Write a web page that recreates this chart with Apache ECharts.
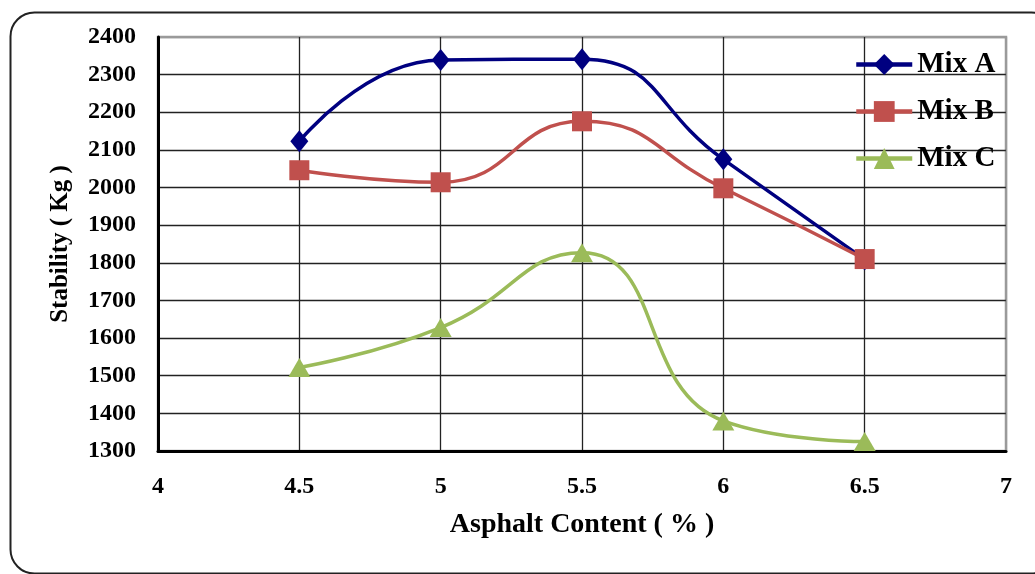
<!DOCTYPE html>
<html><head><meta charset="utf-8">
<script src="https://cdn.jsdelivr.net/npm/echarts@6/dist/echarts.min.js"></script>
<style>html,body{margin:0;padding:0;background:#fff}#c{width:1035px;height:574px}</style>
</head><body><div id="c"></div>
<script>
const asphalt = [4.5, 5, 5.5, 6, 6.5];
const mixA = [2123, 2339, 2341, 2075, 1809];
const mixB = [2046, 2014, 2176, 1998, 1810];
const mixC = [1522, 1628, 1827, 1380, 1325];
const seriesNames = ['Mix A', 'Mix B', 'Mix C'];
const xTitle = 'Asphalt Content ( % )';
const yTitle = 'Stability ( Kg )';

const font = '"Liberation Serif", "Times New Roman", serif';
const pair = (vals) => asphalt.map((x, i) => [x, vals[i]]);
const chart = echarts.init(document.getElementById('c'));
const mk = (name, vals, color, symbol, size) => ({
  name, type: 'line', data: pair(vals), smooth: 0.5,
  symbol, symbolSize: size,
  lineStyle: { color, width: 3.5 },
  itemStyle: { color },
  emphasis: { disabled: true }
});
const dark = '#222', gray = '#9a9a9a';
chart.setOption({
  animation: false,
  graphic: [{
    type: 'rect', left: 8, top: 10, shape: { x: 0, y: 0, width: 1045, height: 561, r: 24 },
    style: { fill: 'none', stroke: '#222', lineWidth: 2 }, z: -1
  }],
  grid: { left: 158, right: 29, top: 37, bottom: 123, show: true, borderColor: gray, borderWidth: 2.5 },
  legend: {
    orient: 'vertical', left: 849, top: 45, itemWidth: 56, itemHeight: 26, itemGap: 18,
    lineStyle: { width: 4.5 },
    textStyle: { fontFamily: font, fontWeight: 'bold', fontSize: 29, color: '#000' },
    data: seriesNames.map(n => ({ name: n }))
  },
  xAxis: {
    type: 'value', min: 4, max: 7, interval: 0.5,
    name: xTitle, nameLocation: 'middle', nameGap: 60,
    nameTextStyle: { fontFamily: font, fontWeight: 'bold', fontSize: 28, color: '#000' },
    axisLine: { lineStyle: { color: '#000', width: 3 } },
    axisTick: { show: false },
    axisLabel: { margin: 24, fontFamily: font, fontWeight: 'bold', fontSize: 24, color: '#000', formatter: v => String(v) },
    splitLine: { show: true, lineStyle: { color: [dark, dark, dark, dark, dark, dark, gray], width: 1.3 } }
  },
  yAxis: {
    type: 'value', min: 1300, max: 2400, interval: 100,
    name: yTitle, nameLocation: 'middle', nameGap: 85,
    nameTextStyle: { fontFamily: font, fontWeight: 'bold', fontSize: 25, color: '#000' },
    axisLine: { show: true, lineStyle: { color: '#000', width: 3 } },
    axisTick: { show: false },
    axisLabel: { margin: 22, fontFamily: font, fontWeight: 'bold', fontSize: 24, color: '#000', formatter: v => String(v) },
    splitLine: { show: true, lineStyle: { color: [dark, dark, dark, dark, dark, dark, dark, dark, dark, dark, dark, gray], width: 1.3 } }
  },
  series: [
    mk(seriesNames[0], mixA, '#000080', 'diamond', [18, 22]),
    mk(seriesNames[1], mixB, '#C0504D', 'rect', 20),
    mk(seriesNames[2], mixC, '#9BBB59', 'triangle', [22, 19])
  ]
});
</script></body></html>
